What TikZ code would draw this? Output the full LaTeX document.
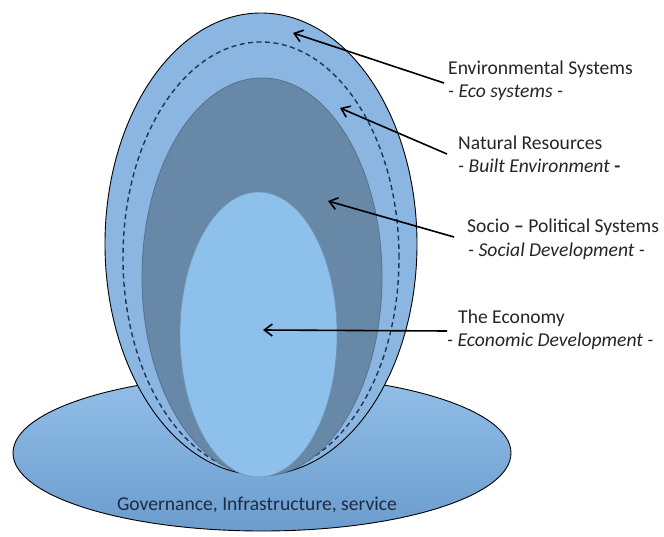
\documentclass[tikz,border=0pt]{standalone}
\usepackage{fontspec}
\setmainfont{Carlito}
\usetikzlibrary{shapes.geometric,arrows.meta}
\definecolor{outerblue}{HTML}{8BB6E1}
\definecolor{darkblue}{HTML}{6888A8}
\definecolor{darkline}{HTML}{55728F}
\definecolor{innerblue}{HTML}{8EC0EC}
\definecolor{innerline}{HTML}{7096BA}
\definecolor{baselight}{HTML}{93C0EA}
\definecolor{basedark}{HTML}{6B9CCC}
\definecolor{dashcol}{HTML}{1F3552}
\definecolor{labelcol}{HTML}{262626}
\definecolor{basetext}{HTML}{1C2B45}
\begin{document}
\begin{tikzpicture}[x=1bp,y=-1bp,
  blob/.style={ellipse, inner sep=0pt, outer sep=0pt},
  lbl/.style={anchor=base west, inner sep=0pt, text=labelcol, font=\fontsize{19.6bp}{23bp}\selectfont},
  sublbl/.style={lbl, font=\fontsize{19.6bp}{23bp}\selectfont\itshape},
  pointer/.style={draw=black, line width=1.6bp, -{Straight Barb[length=8bp,width=12bp,line width=1.6bp]}}
]
\useasboundingbox (0,0) rectangle (664,537);
\fill[white] (0,0) rectangle (664,537);
% base
\node[blob, draw=black, line width=0.9bp, top color=baselight, bottom color=basedark,
      minimum width=498bp, minimum height=156bp] (base) at (262,453) {};
\node[anchor=base, inner sep=0pt, text=basetext, font=\fontsize{19.6bp}{23bp}\selectfont] (baselabel) at (257,510) {Governance, Infrastructure, service};
% egg layers
\node[blob, draw=black, line width=0.9bp, fill=outerblue, minimum width=312bp, minimum height=462bp] (env) at (261,244) {};
\node[blob, draw=dashcol, line width=1.4bp, dash pattern=on 5bp off 3.5bp, minimum width=276bp, minimum height=431bp] (envdash) at (261,257.5) {};
\node[blob, draw=darkline, line width=0.8bp, fill=darkblue, minimum width=240bp, minimum height=398bp] (natural) at (262,277) {};
\node[blob, draw=innerline, line width=0.6bp, fill=innerblue, minimum width=157bp, minimum height=285bp] (economy) at (258.5,334.5) {};
% labels
\node[lbl] (envtitle) at (448,75) {Environmental Systems};
\node[sublbl] (envsub) at (448,98) {- Eco systems -};
\node[lbl] (nattitle) at (458,150) {Natural Resources};
\node[sublbl] (natsub) at (458,173) {- Built Environment \textbf{\upshape -}};
\node[lbl] (soctitle) at (467,233) {Socio \textbf{–} Political Systems};
\node[sublbl] (socsub) at (468,257) {- Social Development -};
\node[lbl] (ecotitle) at (458,323) {The Economy};
\node[sublbl] (ecosub) at (447,346) {- Economic Development -};
% arrow ends
\coordinate (envfrom) at (444,83);
\coordinate (envto) at (293,33);
\coordinate (natfrom) at (447,154);
\coordinate (natto) at (340,108);
\coordinate (socfrom) at (454,237);
\coordinate (socto) at (328,201);
\coordinate (ecofrom) at (447,331);
\coordinate (ecoto) at (263,330);
\draw[pointer] (envfrom) -- (envto);
\draw[pointer] (natfrom) -- (natto);
\draw[pointer] (socfrom) -- (socto);
\draw[pointer] (ecofrom) -- (ecoto);
\end{tikzpicture}
\end{document}
